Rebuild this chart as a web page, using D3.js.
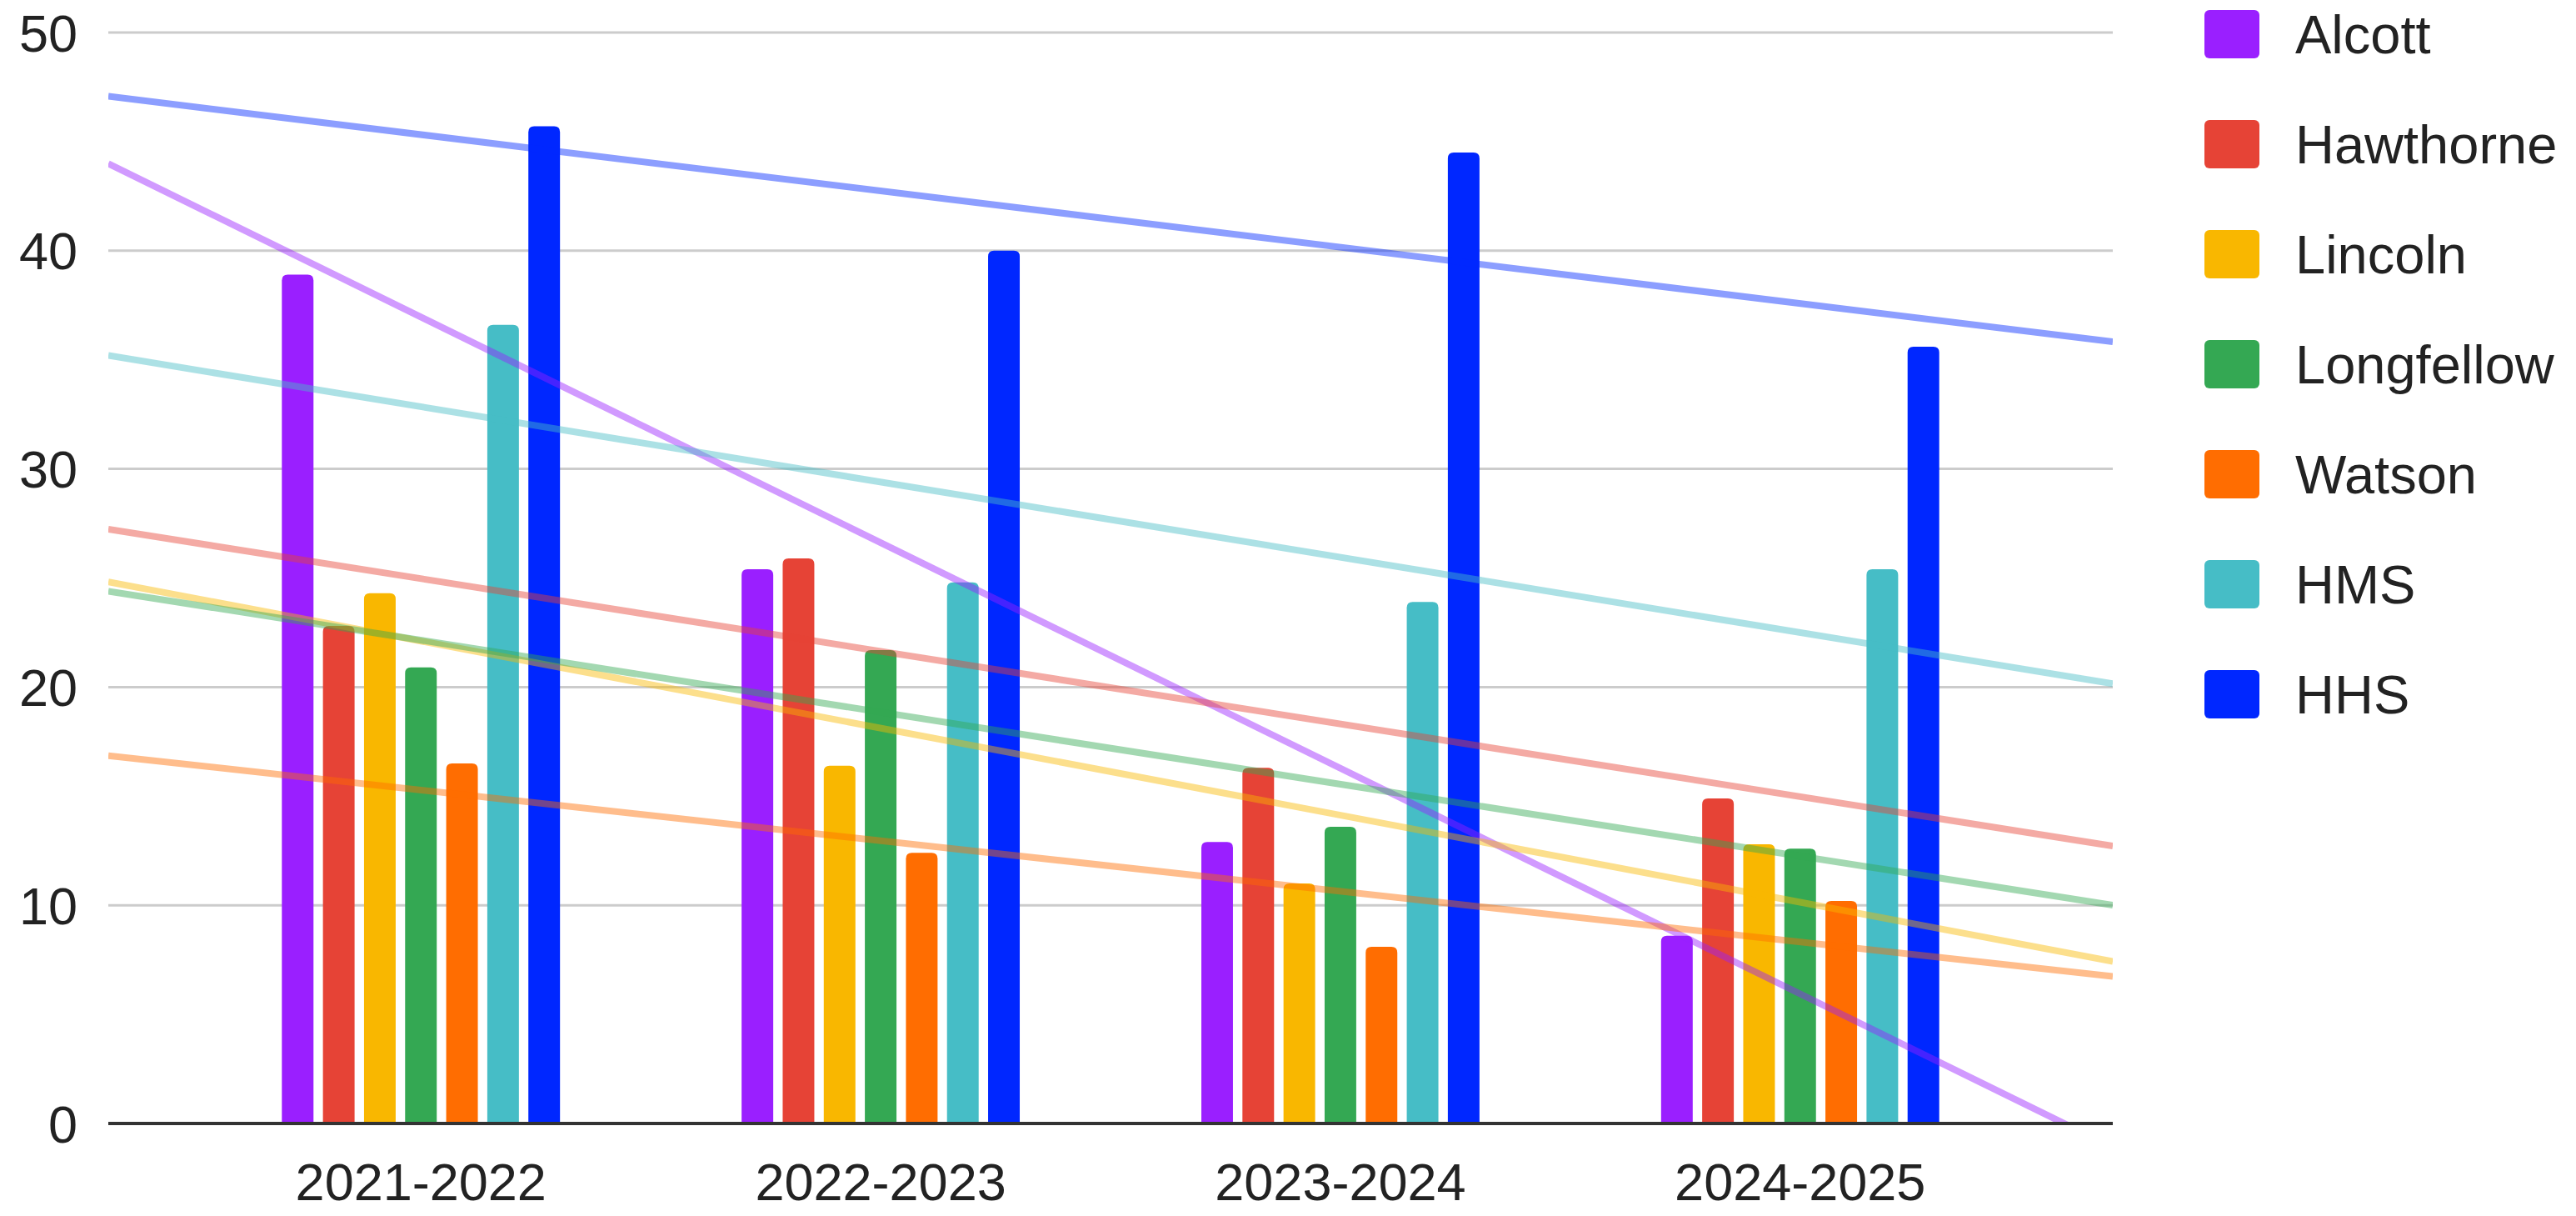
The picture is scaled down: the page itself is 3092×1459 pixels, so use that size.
<!DOCTYPE html>
<html>
<head>
<meta charset="utf-8">
<script src="https://cdn.jsdelivr.net/npm/d3@7"></script>
<style>
  html, body { margin: 0; padding: 0; background: #fff; }
  svg { display: block; }
  text { font-family: "Liberation Sans", Arial, sans-serif; fill: #222; }
</style>
</head>
<body>
<svg id="chart" width="3092" height="1459"></svg>
<script>
// School years on the x axis
const categories = ["2021-2022", "2022-2023", "2023-2024", "2024-2025"];

// Series names and colours (legend order)
const seriesNames = ["Alcott", "Hawthorne", "Lincoln", "Longfellow", "Watson", "HMS", "HHS"];
const seriesColors = ["#9a1fff", "#e64336", "#f9b700", "#34a853", "#ff6d01", "#46bdc6", "#0027ff"];

// Values per school, one per school year
const alcott     = [38.9, 25.4, 12.9, 8.6];
const hawthorne  = [22.8, 25.9, 16.3, 14.9];
const lincoln    = [24.3, 16.4, 11.0, 12.8];
const longfellow = [20.9, 21.7, 13.6, 12.6];
const watson     = [16.5, 12.4, 8.1, 10.2];
const hms        = [36.6, 24.8, 23.9, 25.4];
const hhs        = [45.7, 40.0, 44.5, 35.6];

// Y axis ticks
const yTicks = [0, 10, 20, 30, 40, 50];

const seriesValues = [alcott, hawthorne, lincoln, longfellow, watson, hms, hhs];
const series = seriesNames.map((name, i) => ({
  name, color: seriesColors[i], values: seriesValues[i]
}));

const svg = d3.select("#chart");
const plot = { left: 130, right: 2536, top: 39, bottom: 1348 };

// Category positions on a continuous index scale so trendlines can extend past the groups
const x = d3.scaleLinear().domain([-0.68, 3.68]).range([plot.left, plot.right]);
const y = d3.scaleLinear().domain([0, 50]).range([plot.bottom, plot.top]);

const groupWidth = (x(1) - x(0)) * 0.605;
const inner = d3.scaleBand()
  .domain(seriesNames)
  .range([-groupWidth / 2, groupWidth / 2])
  .paddingInner(0.23)
  .paddingOuter(0);

// Gridlines
svg.append("g").selectAll("line")
  .data(yTicks.filter(t => t !== 0))
  .join("line")
  .attr("x1", plot.left).attr("x2", plot.right)
  .attr("y1", d => y(d)).attr("y2", d => y(d))
  .attr("stroke", "#cccccc").attr("stroke-width", 3);

// Y tick labels
svg.append("g").selectAll("text")
  .data(yTicks)
  .join("text")
  .attr("x", 93)
  .attr("y", d => y(d))
  .attr("dy", "0.36em")
  .attr("text-anchor", "end")
  .attr("font-size", 63)
  .text(d => d);

// Bars with rounded tops
function barPath(x0, w, yTop, yBase, r) {
  const h = yBase - yTop;
  const rr = Math.min(r, w / 2, h);
  return `M${x0},${yBase}V${yTop + rr}Q${x0},${yTop} ${x0 + rr},${yTop}` +
         `H${x0 + w - rr}Q${x0 + w},${yTop} ${x0 + w},${yTop + rr}V${yBase}Z`;
}

const barData = [];
categories.forEach((cat, ci) => {
  series.forEach(s => {
    barData.push({ ci, name: s.name, color: s.color, value: s.values[ci] });
  });
});

svg.append("g").selectAll("path")
  .data(barData)
  .join("path")
  .attr("d", d => barPath(x(d.ci) + inner(d.name), inner.bandwidth(), y(d.value), y(0), 7))
  .attr("fill", d => d.color);

// Linear least-squares trendlines, clipped to the plot area
svg.append("clipPath").attr("id", "plotClip")
  .append("rect")
  .attr("x", plot.left).attr("y", plot.top - 10)
  .attr("width", plot.right - plot.left)
  .attr("height", plot.bottom - plot.top + 10);

function fit(values) {
  const xs = values.map((_, i) => i);
  const mx = d3.mean(xs), my = d3.mean(values);
  const slope = d3.sum(xs, (xi, i) => (xi - mx) * (values[i] - my)) / d3.sum(xs, xi => (xi - mx) ** 2);
  return { slope, intercept: my - slope * mx };
}

const [xd0, xd1] = x.domain();
const line = d3.line().x(d => x(d[0])).y(d => y(d[1]));
svg.append("g").attr("clip-path", "url(#plotClip)")
  .selectAll("path")
  .data(series)
  .join("path")
  .attr("d", s => {
    const f = fit(s.values);
    return line([[xd0, f.intercept + f.slope * xd0], [xd1, f.intercept + f.slope * xd1]]);
  })
  .attr("fill", "none")
  .attr("stroke", s => s.color)
  .attr("stroke-opacity", 0.45)
  .attr("stroke-width", 8);

// Baseline
svg.append("line")
  .attr("x1", plot.left).attr("x2", plot.right)
  .attr("y1", y(0)).attr("y2", y(0))
  .attr("stroke", "#333333").attr("stroke-width", 4);

// X axis labels
svg.append("g").selectAll("text")
  .data(categories)
  .join("text")
  .attr("x", (d, i) => x(i))
  .attr("y", 1440)
  .attr("text-anchor", "middle")
  .attr("font-size", 63)
  .text(d => d);

// Legend
const legend = svg.append("g").selectAll("g")
  .data(series)
  .join("g")
  .attr("transform", (d, i) => `translate(2646, ${41 + i * 132})`);

legend.append("rect")
  .attr("x", 0).attr("y", -29)
  .attr("width", 66).attr("height", 58)
  .attr("rx", 6)
  .attr("fill", d => d.color);

legend.append("text")
  .attr("x", 109)
  .attr("y", 0)
  .attr("dy", "0.36em")
  .attr("font-size", 65)
  .text(d => d.name);
</script>
</body>
</html>
